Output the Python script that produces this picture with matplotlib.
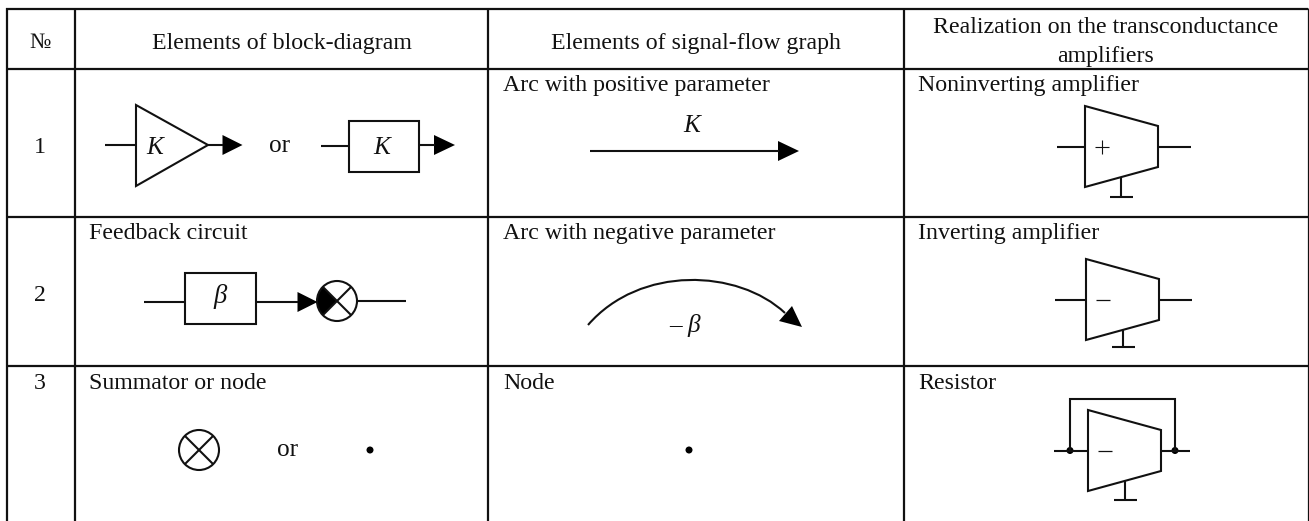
import matplotlib
matplotlib.use("Agg")
import matplotlib.pyplot as plt
from matplotlib.patches import Circle, Polygon, Rectangle, Wedge, PathPatch
from matplotlib.path import Path

plt.rcParams["font.family"] = ["Liberation Serif", "DejaVu Serif"]

# table text
COL_HEADERS = ["Elements of block-diagram", "Elements of signal-flow graph"]
LAST_HEADER = ["Realization on the transconductance", "amplifiers"]
ROW_NUMBERS = ["1", "2", "3"]
BLOCK_LABELS = ["Feedback circuit", "Summator or node"]
GRAPH_LABELS = ["Arc with positive parameter", "Arc with negative parameter", "Node"]
AMP_LABELS = ["Noninverting amplifier", "Inverting amplifier", "Resistor"]

# grid lines, in pixels of the 1309x521 picture
COL_X = [6.5, 75, 488, 904]
ROW_Y = [9, 69, 217, 366]
RIGHT_X = 1308
BOTTOM_Y = 521

FS = 17.2
LW = 1.5
INK = "#111111"

fig = plt.figure(figsize=(13.09, 5.21), dpi=100)
ax = fig.add_axes([0, 0, 1, 1])
ax.set_xlim(0, 1309)
ax.set_ylim(521, 0)
ax.axis("off")


def line(xs, ys, lw=LW):
    ax.plot(xs, ys, color=INK, lw=lw, solid_capstyle="butt", solid_joinstyle="miter")


def text(x, y, s, ha="left", style="normal", size=FS):
    # va=center sits a little high for this font
    ax.text(x, y + 2.5, s, ha=ha, va="center", fontsize=size, style=style, color=INK)


def head(x, y, length=20, half=10):
    ax.add_patch(Polygon([(x, y - half), (x, y + half), (x + length, y)], closed=True, fc="black", ec="none"))


def box(x0, y0, x1, y1):
    ax.add_patch(Rectangle((x0, y0), x1 - x0, y1 - y0, fc="none", ec=INK, lw=LW))


def summator(cx, cy, r, filled=False):
    if filled:
        ax.add_patch(Wedge((cx, cy), r, 135, 225, fc="black", ec="none"))
    ax.add_patch(Circle((cx, cy), r, fc="none", ec=INK, lw=LW))
    d = r * 0.707
    line([cx - d, cx + d], [cy - d, cy + d])
    line([cx - d, cx + d], [cy + d, cy - d])


def amp(x0, x1, top, sign, stem_x, bar_y):
    # trapezoid with the ground symbol, returns y of the middle
    mid = top + 40.5
    ax.add_patch(Polygon([(x0, top), (x1, top + 20), (x1, top + 61), (x0, top + 81)],
                         closed=True, fc="none", ec=INK, lw=LW, joinstyle="miter"))
    line([stem_x, stem_x], [top + 71, bar_y])
    line([stem_x - 11.5, stem_x + 11.5], [bar_y, bar_y])
    if sign == "+":
        line([x0 + 17, x0 + 17], [mid - 7, mid + 7], lw=0.8)
        line([x0 + 10, x0 + 24], [mid, mid], lw=0.8)
    else:
        line([x0 + 10, x0 + 24], [mid, mid], lw=0.9)
    return mid


# ── grid ──
for x in COL_X:
    line([x, x], [ROW_Y[0] - 1, BOTTOM_Y], lw=1.6)
line([RIGHT_X, RIGHT_X], [ROW_Y[0] - 1, BOTTOM_Y], lw=0.9)
for y in ROW_Y:
    line([COL_X[0] - 1, RIGHT_X], [y, y], lw=1.6)

# ── header ──
text(40, 41, "№", ha="center", size=FS - 1)
text(282, 41, COL_HEADERS[0], ha="center")
text(696, 41, COL_HEADERS[1], ha="center")
text(1106, 25, LAST_HEADER[0], ha="center")
text(1106, 54, LAST_HEADER[1], ha="center")

# ── row numbers and captions ──
for y, s in zip([145, 293, 381], ROW_NUMBERS):
    text(40, y, s, ha="center")
text(89, 231, BLOCK_LABELS[0])
text(89, 381, BLOCK_LABELS[1])
for y, s in zip([83, 231, 381], GRAPH_LABELS):
    text(503, y, s)
for y, s in zip([83, 231, 381], AMP_LABELS):
    text(918, y, s)

# ── block diagram, row 1 ──
line([105, 136], [145, 145])
ax.add_patch(Polygon([(136, 105), (136, 186), (208, 145)], closed=True, fc="none", ec=INK, lw=LW))
text(155, 146, "K", ha="center", style="italic", size=FS + 1)
line([208, 223], [145, 145])
head(222.5, 145)
text(280, 143, "or", ha="center", size=FS + 1)
line([321, 349], [146, 146])
box(349, 121, 418.5, 172)
text(382, 146, "K", ha="center", style="italic", size=FS + 1)
line([418.5, 435], [145, 145])
head(434, 145, length=21)

# ── block diagram, row 2 ──
line([143.5, 185], [302, 302])
box(185, 273, 255.5, 324)
text(220, 294, "β", ha="center", style="italic", size=FS + 2)
line([255.5, 298], [302, 302])
head(297.5, 302)
summator(337, 301, 20, filled=True)
line([357, 406], [301, 301])

# ── block diagram, row 3 ──
summator(199, 450, 20)
text(287.5, 447, "or", ha="center", size=FS + 1)
ax.add_patch(Circle((370, 450), 3.5, fc="black", ec="none"))

# ── signal-flow graph ──
text(692, 123, "K", ha="center", style="italic", size=FS + 1)
line([590, 779], [151, 151])
head(778, 151, length=21)
arc = Path([(588, 325), (640, 265), (738, 269), (785, 313)], [Path.MOVETO, Path.CURVE4, Path.CURVE4, Path.CURVE4])
ax.add_patch(PathPatch(arc, fc="none", ec=INK, lw=LW))
ax.add_patch(Polygon([(792, 306), (779, 321), (802, 327)], closed=True, fc="black", ec="none"))
text(685, 323, "– β", ha="center", style="italic", size=FS + 1)
ax.add_patch(Circle((689, 450), 3.5, fc="black", ec="none"))

# ── transconductance amplifiers ──
mid = amp(1085, 1158, 106, "+", 1121, 197)
line([1057, 1085], [mid, mid])
line([1158, 1191], [mid, mid])

mid = amp(1086, 1159, 259, "-", 1123, 347)
line([1055, 1086], [mid, mid])
line([1159, 1192], [mid, mid])

mid = amp(1088, 1161, 410, "-", 1125, 500)
line([1054, 1088], [mid, mid])
line([1161, 1190], [mid, mid])
line([1070, 1070, 1175, 1175], [mid, 399, 399, mid])
ax.add_patch(Circle((1070, mid), 3.5, fc="black", ec="none"))
ax.add_patch(Circle((1175, mid), 3.5, fc="black", ec="none"))

fig.savefig("out.png", dpi=100, facecolor="white")
